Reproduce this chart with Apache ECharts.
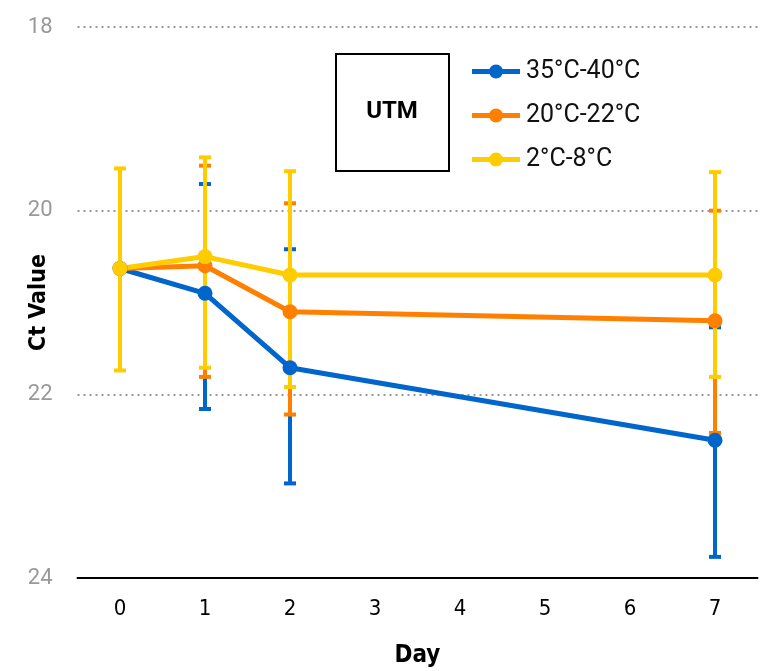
<!DOCTYPE html>
<html>
<head>
<meta charset="utf-8">
<script src="https://cdn.jsdelivr.net/npm/echarts@6/dist/echarts.min.js"></script>
<style>
  html, body { margin: 0; padding: 0; background: #fff; }
  #chart { width: 768px; height: 671px; }
</style>
</head>
<body>
<div id="chart"></div>
<script>
// days on the x axis
const days = ["0", "1", "2", "3", "4", "5", "6", "7"];

// mean Ct values (null = not measured)
const hot = [20.63, 20.9, 21.71, null, null, null, null, 22.5];
const room = [20.63, 20.6, 21.1, null, null, null, null, 21.2];
const cold = [20.63, 20.5, 20.7, null, null, null, null, 20.7];

// error bar ends (day 0 bars of hot/room are hidden behind the cold one)
const hotLow = [null, 19.71, 20.42, null, null, null, null, 21.27];
const hotHigh = [null, 22.16, 22.97, null, null, null, null, 23.77];
const roomLow = [null, 19.51, 19.92, null, null, null, null, 20.0];
const roomHigh = [null, 21.81, 22.22, null, null, null, null, 22.42];
const coldLow = [19.54, 19.42, 19.57, null, null, null, null, 19.58];
const coldHigh = [21.74, 21.71, 21.92, null, null, null, null, 21.81];

const yTicks = [18, 20, 22, 24];

const colors = { hot: "#0066cc", room: "#ff8000", cold: "#ffcc00" };
const narrow = "'DejaVu Sans Condensed', 'Liberation Sans Narrow', Roboto, sans-serif";
// legend icon: thick line with a dot in the middle
const legendIcon = "path://M2,4.5H50V9.5H2Z M26,0A7,7 0 1 1 26,14A7,7 0 1 1 26,0Z";

const errorData = (low, high) =>
  low
    .map((l, i) => (l == null ? null : [i, l, high[i]]))
    .filter((d) => d);

const errorSeries = (low, high, color) => ({
  type: "custom",
  data: errorData(low, high),
  renderItem: (params, api) => {
    const x = api.value(0);
    const lo = api.coord([x, api.value(1)]);
    const hi = api.coord([x, api.value(2)]);
    const hw = 6;
    const style = { stroke: color, lineWidth: 4 };
    return {
      type: "group",
      children: [
        { type: "line", shape: { x1: lo[0], y1: lo[1], x2: hi[0], y2: hi[1] }, style },
        { type: "line", shape: { x1: lo[0] - hw, y1: lo[1], x2: lo[0] + hw, y2: lo[1] }, style },
        { type: "line", shape: { x1: hi[0] - hw, y1: hi[1], x2: hi[0] + hw, y2: hi[1] }, style },
      ],
    };
  },
});

const lineSeries = (name, data, color) => ({
  name,
  type: "line",
  data,
  connectNulls: true,
  symbol: "circle",
  symbolSize: 15,
  itemStyle: { color },
  lineStyle: { color, width: 5 },
});

const chart = echarts.init(document.getElementById("chart"));
chart.setOption({
  animation: false,
  grid: { left: 77.5, right: 10.5, top: 27, bottom: 93, outerBoundsMode: "none", containLabel: false },
  legend: {
    data: ["35°C-40°C", "20°C-22°C", "2°C-8°C"].map((name) => ({ name, icon: legendIcon })),
    orient: "vertical",
    left: 467,
    top: 54,
    itemWidth: 52,
    itemHeight: 14,
    itemGap: 19,
    textStyle: { fontFamily: "Roboto", fontSize: 25, color: "#111", padding: [0, 0, 0, -1] },
  },
  graphic: [
    {
      type: "rect",
      left: 335,
      top: 53,
      shape: { width: 113, height: 117 },
      style: { fill: "#fff", stroke: "#000", lineWidth: 2 },
    },
    {
      type: "text",
      x: 392,
      y: 112,
      style: {
        text: "UTM",
        fontFamily: "Roboto",
        fontWeight: "bold",
        fontSize: 24,
        fill: "#000",
        align: "center",
        verticalAlign: "middle",
      },
    },
  ],
  xAxis: {
    type: "category",
    data: days,
    name: "Day",
    nameLocation: "middle",
    nameGap: 66,
    nameTextStyle: { fontFamily: narrow, fontWeight: "bold", fontSize: 24, color: "#000" },
    axisLine: { lineStyle: { color: "#000", width: 2 } },
    axisTick: { length: 8, lineStyle: { color: "#000", width: 2 } },
    axisLabel: { fontFamily: narrow, fontSize: 22, color: "#000", margin: 20 },
    splitLine: { show: false },
  },
  yAxis: {
    type: "value",
    inverse: true,
    min: yTicks[0],
    max: yTicks[yTicks.length - 1],
    interval: 2,
    name: "Ct Value",
    nameLocation: "middle",
    nameGap: 27,
    nameMoveOverlap: false,
    nameTextStyle: { fontFamily: narrow, fontWeight: "bold", fontSize: 23, color: "#000" },
    axisLine: { show: false },
    axisTick: { show: false },
    axisLabel: { fontFamily: "Roboto", fontSize: 22, color: "#999", margin: 25 },
    splitLine: { lineStyle: { color: "#999", type: [2, 4], width: 2 } },
  },
  series: [
    errorSeries(hotLow, hotHigh, colors.hot),
    errorSeries(roomLow, roomHigh, colors.room),
    errorSeries(coldLow, coldHigh, colors.cold),
    lineSeries("35°C-40°C", hot, colors.hot),
    lineSeries("20°C-22°C", room, colors.room),
    lineSeries("2°C-8°C", cold, colors.cold),
  ],
});
</script>
</body>
</html>
